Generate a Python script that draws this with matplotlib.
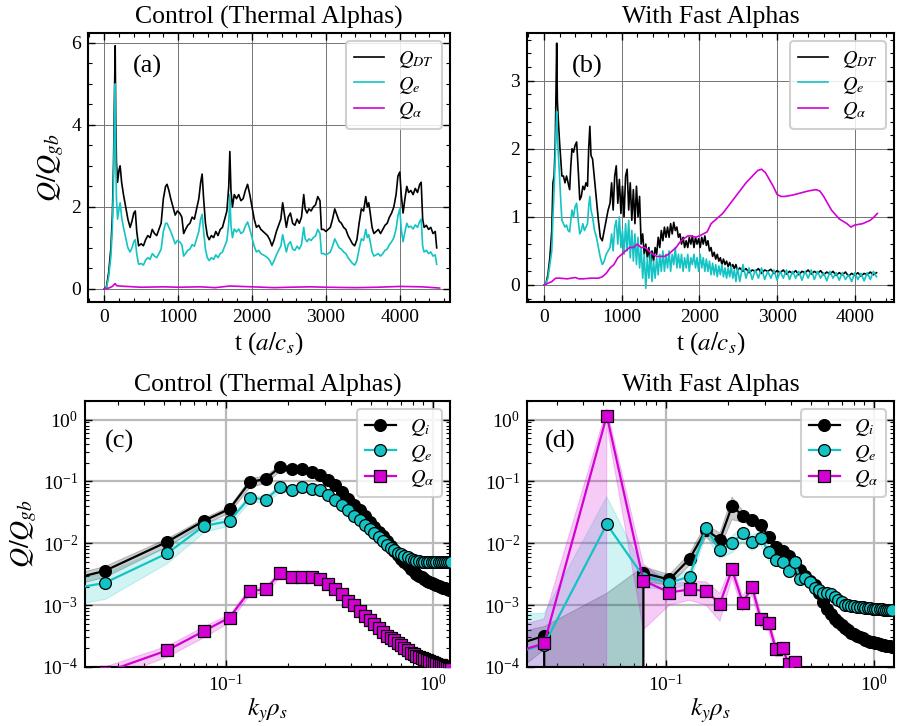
import numpy as np
import matplotlib
matplotlib.use("Agg")
import matplotlib.pyplot as plt
from matplotlib.ticker import MultipleLocator, LogLocator, NullFormatter

plt.rcParams['font.family'] = ['Liberation Serif', 'DejaVu Serif']
plt.rcParams['mathtext.fontset'] = 'stix'

C_BLK = 'black'
C_CYA = '#14c3c3'
C_MAG = '#d400d4'

# ---------------- panel (a) : time traces, control ----------------
t_a = [0, 30, 60, 90, 110, 125, 140, 148, 155, 165,
       180, 200, 215, 235, 260, 290, 320, 350, 375, 400,
       420, 440, 465, 500, 530, 560, 590, 620, 650, 680,
       710, 740, 770, 800, 830, 850, 875, 900, 930, 960,
       990, 1020, 1050, 1075, 1100, 1130, 1160, 1190, 1220, 1250,
       1280, 1305, 1325, 1345, 1370, 1395, 1420, 1450, 1480, 1510,
       1540, 1570, 1600, 1630, 1660, 1685, 1700, 1715, 1735, 1760,
       1790, 1820, 1850, 1880, 1910, 1940, 1970, 2000, 2030, 2060,
       2090, 2120, 2150, 2180, 2210, 2240, 2270, 2300, 2330, 2360,
       2390, 2415, 2440, 2465, 2490, 2520, 2550, 2580, 2610, 2640,
       2670, 2700, 2720, 2745, 2770, 2800, 2830, 2860, 2890, 2920,
       2940, 2970, 3000, 3030, 3060, 3090, 3120, 3150, 3180, 3210,
       3240, 3270, 3300, 3330, 3360, 3390, 3420, 3450, 3480, 3510,
       3540, 3560, 3580, 3600, 3625, 3650, 3680, 3710, 3740, 3770,
       3800, 3830, 3860, 3890, 3920, 3950, 3975, 4000, 4020, 4045,
       4070, 4095, 4120, 4150, 4180, 4210, 4240, 4270, 4290, 4310,
       4330, 4360, 4390, 4420, 4450, 4480, 4500]
qdt_a = [0.0, 0.05, 0.4, 1.0, 1.8, 3.0, 5.0, 5.93, 4.2, 3.1,
         2.6, 2.9, 3.0, 2.6, 2.3, 2.0, 1.7, 1.5, 1.65, 1.85,
         1.9, 1.4, 1.05, 1.1, 1.05, 1.2, 1.3, 1.25, 1.45, 1.35,
         1.3, 1.45, 1.6, 2.2, 2.5, 2.55, 2.4, 2.2, 2.0, 1.8,
         1.9, 1.85, 1.75, 1.35, 1.45, 1.55, 1.6, 1.75, 1.7, 1.95,
         2.2, 2.6, 2.8, 2.2, 1.6, 1.3, 1.2, 1.3, 1.25, 1.4,
         1.3, 1.45, 1.5, 1.7, 1.9, 2.5, 3.35, 2.4, 2.0, 2.3,
         2.2, 2.3, 2.15, 2.2, 2.4, 2.55, 2.3, 2.0, 1.7, 1.5,
         1.55, 1.45, 1.4, 1.35, 1.3, 1.2, 1.05, 1.2, 1.4, 1.55,
         1.7, 2.1, 1.8, 1.5, 1.75, 1.85, 1.6, 1.55, 1.7, 1.6,
         1.75, 2.3, 1.95, 1.85, 1.95, 1.9, 2.0, 2.05, 2.25, 2.15,
         1.45, 1.45, 1.4, 1.45, 1.5, 1.7, 1.95, 1.8, 1.65, 1.6,
         1.5, 1.45, 1.3, 1.2, 1.1, 1.05, 1.2, 1.6, 1.95, 1.9,
         2.25, 2.0, 2.1, 1.85, 1.5, 1.35, 1.4, 1.45, 1.35, 1.45,
         1.55, 1.6, 1.75, 1.85, 2.0, 2.3, 2.75, 2.85, 2.3, 1.85,
         2.2, 2.5, 2.35, 2.4, 2.3, 2.45, 2.35, 2.55, 2.6, 1.7,
         1.5, 1.55, 1.45, 1.5, 1.35, 1.4, 1.0]
qe_a = [0.0, 0.03, 0.3, 0.8, 1.5, 2.6, 4.3, 5.0, 3.3, 2.2,
        1.7, 1.95, 2.1, 1.75, 1.5, 1.25, 1.0, 0.9, 1.0, 1.15,
        1.2, 0.85, 0.6, 0.62, 0.58, 0.7, 0.76, 0.72, 0.86, 0.8,
        0.76, 0.86, 0.97, 1.4, 1.6, 1.6, 1.5, 1.4, 1.25, 1.1,
        1.18, 1.15, 1.08, 0.8, 0.86, 0.94, 0.97, 1.08, 1.04, 1.22,
        1.4, 1.7, 1.82, 1.4, 0.97, 0.76, 0.69, 0.76, 0.72, 0.83,
        0.76, 0.86, 0.9, 1.04, 1.18, 1.6, 2.3, 1.55, 1.25, 1.46,
        1.39, 1.46, 1.35, 1.39, 1.53, 1.63, 1.46, 1.25, 1.04, 0.9,
        0.94, 0.86, 0.83, 0.8, 0.76, 0.69, 0.58, 0.69, 0.83, 0.94,
        1.04, 1.32, 1.11, 0.9, 1.08, 1.15, 0.97, 0.94, 1.04, 0.97,
        1.08, 1.5, 1.22, 1.15, 1.22, 1.18, 1.25, 1.29, 1.45, 1.35,
        0.86, 0.86, 0.83, 0.86, 0.9, 1.04, 1.22, 1.11, 1.0, 0.97,
        0.9, 0.86, 0.76, 0.69, 0.62, 0.58, 0.69, 0.97, 1.22, 1.18,
        1.45, 1.25, 1.32, 1.15, 0.9, 0.8, 0.83, 0.86, 0.8, 0.86,
        0.94, 0.97, 1.08, 1.15, 1.25, 1.46, 1.78, 1.95, 1.46, 1.15,
        1.39, 1.6, 1.5, 1.53, 1.46, 1.56, 1.5, 1.64, 1.7, 1.04,
        0.9, 0.94, 0.86, 0.9, 0.8, 0.83, 0.6]
t_alpha_a = [0, 60, 110, 148, 165, 200, 300, 500, 800, 1000, 1300, 1500,
             1700, 2000, 2300, 2500, 2800, 3000, 3400, 3700, 4000, 4300, 4540]
qalpha_a = [0.0, 0.02, 0.06, 0.13, 0.08, 0.07, 0.06, 0.04, 0.05, 0.04, 0.05, 0.03,
            0.07, 0.05, 0.03, 0.04, 0.05, 0.04, 0.03, 0.04, 0.06, 0.05, 0.02]

# ---------------- panel (b) : time traces, fast alphas ----------------
t_b = [0, 25, 50, 75, 100, 115, 130, 145, 155, 163,
       172, 185, 200, 215, 230, 250, 270, 290, 310, 330,
       345, 360, 380, 400, 420, 440, 460, 480, 500, 520,
       540, 560, 575, 590, 605, 625, 650, 675, 700, 725,
       750, 775, 800, 825,
       850, 870, 890, 910, 930, 950, 970, 990, 1010, 1030,
       1050, 1070, 1090, 1110, 1130, 1150, 1170, 1190, 1210, 1230,
       1250, 1270, 1290, 1310, 1330, 1350, 1370, 1390, 1410, 1430,
       1450, 1470, 1490, 1510, 1530, 1550, 1570, 1590, 1610, 1630,
       1650, 1670, 1690, 1710, 1730, 1750, 1770, 1790, 1810, 1830,
       1850, 1870, 1890, 1910, 1930, 1950, 1970, 1990, 2010, 2030,
       2050, 2070, 2090, 2110, 2130, 2150, 2170, 2190, 2210, 2230,
       2250, 2270, 2290, 2310, 2330, 2350, 2370, 2390, 2410, 2430,
       2450, 2470, 2490,
       2520, 2560, 2600, 2640, 2680, 2720, 2760, 2800, 2840, 2880,
       2920, 2960, 3000, 3040, 3080, 3120, 3160, 3200, 3240, 3280,
       3320, 3360, 3400, 3440, 3480, 3520, 3560, 3600, 3640, 3680,
       3720, 3760, 3800, 3840, 3880, 3920, 3960, 4000, 4040, 4080,
       4120, 4160, 4200, 4240, 4280]
qdt_b = [0.0, 0.02, 0.15, 0.4, 0.8, 1.5, 1.6, 2.1, 2.9, 3.55,
         2.7, 2.4, 2.1, 1.85, 1.6, 1.6, 1.5, 1.6, 1.5, 1.4,
         1.75, 2.0, 1.95, 2.05, 2.1, 1.7, 1.25, 1.3, 1.45, 1.4,
         1.5, 1.45, 2.0, 2.33, 1.9, 1.85, 1.55, 1.25, 0.95, 0.7,
         0.65, 0.8, 0.95, 1.1,
         1.2, 1.5, 1.1, 1.6, 1.75, 1.2, 1.55, 1.05, 1.45, 1.0,
         1.6, 1.7, 1.1, 1.5, 0.95, 1.4, 0.9, 1.45, 1.0, 1.3,
         0.6, 0.75, 0.45, 0.6, 0.4, 0.55, 0.3, 0.5, 0.35, 0.55,
         0.45, 0.7, 0.55, 0.8, 0.65, 0.85, 0.7, 0.85, 0.7, 0.9,
         0.75, 0.92, 0.8, 0.85, 0.7, 0.75, 0.6, 0.7, 0.55, 0.65,
         0.55, 0.7, 0.6, 0.72, 0.55, 0.7, 0.6, 0.68, 0.55, 0.7,
         0.6, 0.72, 0.58, 0.65, 0.5, 0.55, 0.42, 0.48, 0.38, 0.45,
         0.35, 0.4, 0.3, 0.38, 0.3, 0.35, 0.27, 0.33, 0.26, 0.3,
         0.24, 0.3, 0.22,
         0.25, 0.2, 0.24, 0.18, 0.22, 0.2, 0.24, 0.17, 0.22, 0.2,
         0.23, 0.17, 0.21, 0.18, 0.22, 0.16, 0.2, 0.17, 0.21, 0.15,
         0.2, 0.18, 0.22, 0.16, 0.2, 0.17, 0.21, 0.15, 0.19, 0.16,
         0.2, 0.14, 0.18, 0.15, 0.19, 0.13, 0.17, 0.14, 0.18, 0.13,
         0.17, 0.15, 0.19, 0.15, 0.18]
qe_b = [0.0, 0.02, 0.1, 0.3, 0.5, 1.0, 1.4, 1.9, 2.3, 2.55,
        2.2, 1.9, 1.6, 1.25, 0.95, 0.9, 0.85, 0.88, 0.8, 0.78,
        0.95, 1.1, 1.0, 1.15, 1.2, 0.95, 0.75, 0.8, 0.9, 0.8,
        0.85, 0.9, 1.15, 1.3, 1.1, 1.0, 0.8, 0.7, 0.55, 0.4,
        0.3, 0.35, 0.45, 0.5,
        0.55, 0.75, 0.5, 0.85, 0.95, 0.6, 1.0, 0.55, 0.8, 0.45,
        0.9, 0.5, 0.95, 0.4, 0.8, 0.35, 0.75, 0.3, 0.7, 0.25,
        0.55, 0.1, 0.45, -0.05, 0.4, 0.1, 0.45, 0.05, 0.35, 0.1,
        0.4, 0.15, 0.45, 0.2, 0.5, 0.2, 0.45, 0.25, 0.5, 0.2,
        0.45, 0.3, 0.55, 0.25, 0.45, 0.25, 0.45, 0.2, 0.4, 0.25,
        0.45, 0.2, 0.4, 0.3, 0.45, 0.25, 0.4, 0.2, 0.45, 0.25,
        0.4, 0.2, 0.38, 0.2, 0.35, 0.15, 0.32, 0.15, 0.3, 0.12,
        0.28, 0.15, 0.3, 0.12, 0.25, 0.1, 0.25, 0.12, 0.28, 0.1,
        0.22, 0.05, 0.25,
        0.05, 0.3, 0.1, 0.25, 0.08, 0.22, 0.1, 0.25, 0.08, 0.2,
        0.1, 0.22, 0.07, 0.2, 0.1, 0.22, 0.08, 0.2, 0.1, 0.2,
        0.07, 0.2, 0.1, 0.22, 0.08, 0.2, 0.1, 0.18, 0.06, 0.2,
        0.1, 0.18, 0.07, 0.18, 0.08, 0.15, 0.05, 0.18, 0.08, 0.17,
        0.06, 0.18, 0.08, 0.2, 0.12]
t_alpha_b = [0, 100, 150, 200, 300, 400, 450, 500, 600, 700,
             750, 800, 850, 900, 950, 1000, 1050, 1100, 1150, 1200,
             1250, 1300, 1350, 1400, 1450, 1500, 1550, 1600, 1650, 1700,
             1750, 1800, 1850, 1900, 1950, 2000, 2050, 2100, 2150, 2200,
             2300, 2400, 2500, 2600, 2700, 2750, 2800, 2850, 2900, 2950,
             3000, 3050, 3100, 3200, 3300, 3400, 3500, 3550, 3600, 3650,
             3700, 3800, 3900, 3950, 4000, 4100, 4200, 4250, 4290]
qalpha_b = [0.0, 0.05, 0.1, 0.1, 0.09, 0.11, 0.09, 0.09, 0.1, 0.1,
            0.12, 0.17, 0.25, 0.3, 0.4, 0.45, 0.5, 0.55, 0.55, 0.6,
            0.55, 0.55, 0.5, 0.45, 0.42, 0.42, 0.42, 0.45, 0.5, 0.55,
            0.63, 0.68, 0.72, 0.72, 0.7, 0.72, 0.75, 0.78, 0.9, 0.95,
            1.05, 1.2, 1.35, 1.5, 1.62, 1.68, 1.7, 1.65, 1.55, 1.45,
            1.33, 1.3, 1.3, 1.32, 1.35, 1.38, 1.4, 1.38, 1.3, 1.2,
            1.1, 0.97, 0.9, 0.85, 0.88, 0.9, 0.95, 1.0, 1.05]

# ---------------- spectra (c), (d) ----------------
ky = [0.013, 0.026, 0.052, 0.078, 0.104, 0.13, 0.156, 0.182, 0.208, 0.234,
      0.26, 0.286, 0.312, 0.338, 0.364, 0.39, 0.416, 0.442, 0.468, 0.494,
      0.52, 0.546, 0.572, 0.598, 0.624, 0.65, 0.676, 0.702, 0.728, 0.754,
      0.78, 0.806, 0.832, 0.858, 0.884, 0.91, 0.936, 0.962, 0.988, 1.014,
      1.04, 1.066, 1.092, 1.118, 1.144, 1.17, 1.196, 1.222]

qi_c = [2.0e-3, 3.6e-3, 1.06e-2, 2.3e-2, 3.6e-2, 9.7e-2, 0.111, 0.17, 0.16, 0.16,
        0.14, 0.125, 0.104, 0.087, 0.068, 0.053, 0.042, 0.034, 0.0275, 0.0224,
        0.0186, 0.0155, 0.0129, 0.0107, 8.9e-3, 7.6e-3, 6.5e-3, 5.6e-3, 4.9e-3, 4.4e-3,
        3.9e-3, 3.55e-3, 3.2e-3, 3.0e-3, 2.8e-3, 2.6e-3, 2.5e-3, 2.4e-3, 2.3e-3, 2.2e-3,
        2.1e-3, 2.04e-3, 1.95e-3, 1.9e-3, 1.86e-3, 1.82e-3, 1.78e-3, 1.75e-3]
qe_c = [1.5e-3, 2.3e-3, 6.9e-3, 1.9e-2, 2.3e-2, 5.5e-2, 5.1e-2, 8.1e-2, 7.4e-2, 8.1e-2,
        7.5e-2, 7.2e-2, 6.0e-2, 5.0e-2, 4.1e-2, 3.4e-2, 2.75e-2, 2.35e-2, 2.0e-2, 1.7e-2,
        1.45e-2, 1.26e-2, 1.1e-2, 9.5e-3, 8.5e-3, 7.8e-3, 7.1e-3, 6.6e-3, 6.2e-3, 5.9e-3,
        5.6e-3, 5.4e-3, 5.25e-3, 5.1e-3, 5.0e-3, 4.95e-3, 4.9e-3, 4.9e-3, 4.9e-3, 4.95e-3,
        4.9e-3, 4.95e-3, 5.0e-3, 4.95e-3, 5.0e-3, 5.0e-3, 5.05e-3, 5.05e-3]
qa_c = [3e-5, 8.2e-5, 1.86e-4, 3.8e-4, 6.3e-4, 1.7e-3, 1.8e-3, 3.3e-3, 2.9e-3, 2.9e-3,
        2.9e-3, 2.6e-3, 2.2e-3, 1.8e-3, 1.5e-3, 1.15e-3, 1.0e-3, 7.9e-4, 6.8e-4, 5.75e-4,
        4.9e-4, 4.3e-4, 3.7e-4, 3.2e-4, 2.95e-4, 2.7e-4, 2.45e-4, 2.25e-4, 2.05e-4, 1.86e-4,
        1.7e-4, 1.6e-4, 1.5e-4, 1.45e-4, 1.4e-4, 1.35e-4, 1.3e-4, 1.25e-4, 1.2e-4, 1.16e-4,
        1.12e-4, 1.09e-4, 1.06e-4, 1.03e-4, 1.0e-4, 9.7e-5, 9.4e-5, 9.2e-5]
# relative standard deviations for (c)
rsd_i_c = [0.2, 0.2, 0.15, 0.12, 0.12, 0.15, 0.15, 0.12, 0.1, 0.1,
           0.1, 0.1, 0.1, 0.1, 0.1, 0.1, 0.1, 0.1, 0.1, 0.1,
           0.1, 0.1, 0.1, 0.1, 0.1, 0.1, 0.1, 0.1, 0.1, 0.1,
           0.1, 0.1, 0.1, 0.1, 0.1, 0.1, 0.1, 0.1, 0.1, 0.1,
           0.1, 0.1, 0.1, 0.1, 0.1, 0.1, 0.1, 0.1]
rsd_e_c = [0.45, 0.45, 0.3, 0.2, 0.15, 0.12, 0.12, 0.15, 0.1, 0.1,
           0.1, 0.1, 0.1, 0.1, 0.1, 0.1, 0.1, 0.1, 0.1, 0.1,
           0.1, 0.1, 0.1, 0.1, 0.1, 0.1, 0.1, 0.1, 0.1, 0.1,
           0.1, 0.1, 0.1, 0.1, 0.1, 0.1, 0.1, 0.1, 0.1, 0.1,
           0.1, 0.1, 0.1, 0.1, 0.1, 0.1, 0.1, 0.1]
rsd_a_c = [0.25, 0.25, 0.2, 0.2, 0.15, 0.12, 0.12, 0.12, 0.12, 0.12,
           0.12, 0.12, 0.12, 0.12, 0.12, 0.12, 0.12, 0.12, 0.12, 0.12,
           0.12, 0.12, 0.12, 0.12, 0.12, 0.12, 0.12, 0.12, 0.12, 0.12,
           0.12, 0.12, 0.12, 0.12, 0.12, 0.12, 0.12, 0.12, 0.12, 0.12,
           0.12, 0.12, 0.12, 0.12, 0.12, 0.12, 0.12, 0.12]

qi_d = [1.5e-4, 3.2e-4, -3e-4, 3.3e-3, 2.6e-3, 5.6e-3, 1.65e-2, 1.15e-2, 4.0e-2, 2.8e-2,
        2.4e-2, 1.96e-2, 1.28e-2, 8.8e-3, 7.5e-3, 6.3e-3, 5.0e-3, 3.7e-3, 3.0e-3, 2.5e-3,
        2.1e-3, 1.6e-3, 1.12e-3, 8.7e-4, 7.1e-4, 6.0e-4, 5.25e-4, 4.7e-4, 4.3e-4, 3.9e-4,
        3.6e-4, 3.4e-4, 3.2e-4, 3.0e-4, 2.9e-4, 2.75e-4, 2.6e-4, 2.55e-4, 2.5e-4, 2.45e-4,
        2.4e-4, 2.35e-4, 2.3e-4, 2.25e-4, 2.2e-4, 2.2e-4, 2.15e-4, 2.1e-4]
sd_i_d = [1.2e-4, 1.3e-4, 1.85e-3, 9e-4, 5e-4, 1.2e-3, 4e-3, 3e-3, 1.6e-2, 6e-3,
          4e-3, 3e-3, 2e-3, 1.3e-3, 1.1e-3, 9e-4, 7e-4, 5e-4, 4e-4, 3.5e-4,
          3e-4, 2.4e-4, 1.7e-4, 1.3e-4, 1.1e-4, 9e-5, 8e-5, 7e-5, 6.5e-5, 6e-5,
          5.5e-5, 5e-5, 5e-5, 4.5e-5, 4.5e-5, 4e-5, 4e-5, 4e-5, 4e-5, 4e-5,
          3.5e-5, 3.5e-5, 3.5e-5, 3.5e-5, 3.5e-5, 3.5e-5, 3.5e-5, 3.5e-5]
qe_d = [1.2e-4, 2.3e-4, 2.04e-2, 2.9e-3, 2.3e-3, 2.9e-3, 1.74e-2, 7.7e-3, 1.0e-2, 1.45e-2,
        1.06e-2, 1.24e-2, 7.3e-3, 5.4e-3, 5.0e-3, 3.6e-3, 5.0e-3, 2.6e-3, 2.7e-3, 2.4e-3,
        1.9e-3, 1.77e-3, 1.55e-3, 1.6e-3, 1.5e-3, 1.38e-3, 1.23e-3, 1.12e-3, 1.02e-3, 1.0e-3,
        9.8e-4, 9.6e-4, 9.5e-4, 9.3e-4, 9.2e-4, 9.1e-4, 9.0e-4, 8.9e-4, 8.8e-4, 8.8e-4,
        8.7e-4, 8.6e-4, 8.6e-4, 8.5e-4, 8.5e-4, 8.4e-4, 8.4e-4, 8.3e-4]
sd_e_d = [5.5e-4, 5.1e-4, 3.6e-2, 1.0e-3, 5e-4, 7e-4, 4e-3, 2e-3, 3e-3, 4e-3,
          3e-3, 3e-3, 2e-3, 1.2e-3, 1e-3, 7e-4, 8e-4, 4e-4, 4e-4, 3e-4,
          2.5e-4, 1.8e-4, 1.5e-4, 1.5e-4, 1.4e-4, 1.3e-4, 1.2e-4, 1.1e-4, 1e-4, 1e-4,
          1e-4, 9e-5, 9e-5, 9e-5, 9e-5, 9e-5, 9e-5, 9e-5, 9e-5, 9e-5,
          9e-5, 9e-5, 9e-5, 9e-5, 9e-5, 9e-5, 9e-5, 9e-5]
qa_d = [1.2e-4, 2.4e-4, 1.16, 2.5e-3, 1.6e-3, 1.8e-3, 1.7e-3, 1.05e-3, 3.8e-3, 1.1e-3,
        1.95e-3, 5.9e-4, 5.1e-4, 1.95e-4, 2.0e-4, 1.1e-4, 1.2e-4, 8e-5, 5e-5, 3.5e-5,
        2.5e-5, 2e-5, 1.6e-5, 1.3e-5, 1.1e-5, 9e-6, 8e-6, 7e-6, 6e-6, 5.5e-6,
        5e-6, 4.6e-6, 4.3e-6, 4e-6, 3.8e-6, 3.6e-6, 3.4e-6, 3.2e-6, 3e-6, 2.9e-6,
        2.8e-6, 2.7e-6, 2.6e-6, 2.5e-6, 2.4e-6, 2.3e-6, 2.2e-6, 2.1e-6]
sd_a_d = [2e-4, 3.6e-4, 0.34, 2.1e-3, 6e-4, 6e-4, 7e-4, 5e-4, 1e-3, 3e-4,
          5e-4, 1.5e-4, 1.3e-4, 5e-5, 5e-5, 3e-5, 3e-5, 2e-5, 1.2e-5, 8e-6,
          5e-6, 4e-6, 3e-6, 3e-6, 2e-6, 2e-6, 2e-6, 1.5e-6, 1.5e-6, 1e-6,
          1e-6, 1e-6, 1e-6, 1e-6, 1e-6, 1e-6, 1e-6, 1e-6, 1e-6, 1e-6,
          1e-6, 1e-6, 1e-6, 1e-6, 1e-6, 1e-6, 1e-6, 1e-6]

titles = ['Control (Thermal Alphas)', 'With Fast Alphas',
          'Control (Thermal Alphas)', 'With Fast Alphas']
letters = ['(a)', '(b)', '(c)', '(d)']

W, H = 899, 726
fig = plt.figure(figsize=(W / 100, H / 100), dpi=100)


def box(l, r, t, b):
    return [l / W, 1 - b / H, (r - l) / W, (b - t) / H]


axa = fig.add_axes(box(88, 450, 33, 302))
axb = fig.add_axes(box(527, 894, 33, 302))
axc = fig.add_axes(box(85, 450, 401, 667))
axd = fig.add_axes(box(527, 894, 401, 667))


def style(ax, lw_grid, grid_color):
    for s in ax.spines.values():
        s.set_linewidth(1.5)
    ax.tick_params(which='both', direction='in', top=True, right=True,
                   labelsize=14)
    ax.tick_params(which='major', length=5, width=1.0)
    ax.tick_params(which='minor', length=2.6, width=0.8)
    ax.tick_params(axis='y', pad=5)
    ax.tick_params(axis='x', pad=5)
    ax.grid(True, which='major', color=grid_color, lw=lw_grid, zorder=0)
    ax.set_axisbelow(True)


def make_legend(ax):
    leg = ax.legend(loc='upper right', fontsize=14.5, handlelength=1.5,
                    fancybox=True, framealpha=0.85, borderpad=0.4,
                    labelspacing=0.22, handletextpad=0.7, borderaxespad=0.4)
    leg.get_frame().set_edgecolor('#c8c8c8')
    leg.get_frame().set_linewidth(1.5)


# ---- (a)
axa.plot(t_a, qdt_a, color=C_BLK, lw=1.2, label=r'$Q_{DT}$')
axa.plot(t_a, qe_a, color=C_CYA, lw=1.2, label=r'$Q_e$')
axa.plot(t_alpha_a, qalpha_a, color=C_MAG, lw=1.2, label=r'$Q_\alpha$')
axa.set_xlim(-220, 4680)
axa.set_ylim(-0.32, 6.24)
axa.xaxis.set_major_locator(MultipleLocator(1000))
axa.xaxis.set_minor_locator(MultipleLocator(200))
axa.yaxis.set_major_locator(MultipleLocator(2))
axa.yaxis.set_minor_locator(MultipleLocator(0.5))
style(axa, 0.7, '0.45')

# ---- (b)
axb.plot(t_b, qdt_b, color=C_BLK, lw=1.2, label=r'$Q_{DT}$')
axb.plot(t_b, qe_b, color=C_CYA, lw=1.2, label=r'$Q_e$')
axb.plot(t_alpha_b, qalpha_b, color=C_MAG, lw=1.2, label=r'$Q_\alpha$')
axb.set_xlim(-219, 4505)
axb.set_ylim(-0.25, 3.7)
axb.xaxis.set_major_locator(MultipleLocator(1000))
axb.xaxis.set_minor_locator(MultipleLocator(200))
axb.yaxis.set_major_locator(MultipleLocator(1))
axb.yaxis.set_minor_locator(MultipleLocator(0.2))
style(axb, 0.7, '0.45')

for ax in (axa, axb):
    ax.set_xlabel(r't ($a/c_s$)', fontsize=18, labelpad=3)
    make_legend(ax)
axa.set_ylabel(r'$Q/Q_{gb}$', fontsize=20, labelpad=4)


# ---- spectra
def spectrum(ax, lo_hi, series, xlim):
    for (lo, hi), (vals, col, mk, lab) in zip(lo_hi, series):
        ax.fill_between(ky, lo, hi, color=col, alpha=0.2, lw=0.8, zorder=2)
    for vals, col, mk, lab in series:
        ax.plot(ky, vals, color=col, lw=1.6, marker=mk, ms=8.5,
                mfc=col, mec='black', mew=0.9, label=lab, zorder=3)
    ax.set_xscale('log')
    ax.set_yscale('log')
    ax.set_xlim(*xlim)
    ax.set_ylim(1e-4, 2.0)
    ax.yaxis.set_major_locator(LogLocator(base=10, numticks=10))
    ax.yaxis.set_minor_locator(LogLocator(base=10, subs=np.arange(2, 10) * 1.0, numticks=12))
    ax.yaxis.set_minor_formatter(NullFormatter())
    ax.xaxis.set_minor_formatter(NullFormatter())
    style(ax, 1.6, '#b9b9b9')
    ax.set_xlabel(r'$k_y\rho_s$', fontsize=18, labelpad=0)
    make_legend(ax)


bands_c = []
for vals, rsd in ((qi_c, rsd_i_c), (qe_c, rsd_e_c), (qa_c, rsd_a_c)):
    v = np.array(vals)
    r = np.array(rsd)
    bands_c.append((v * (1 - r), v * (1 + r)))
spectrum(axc, bands_c,
         [(qi_c, C_BLK, 'o', r'$Q_i$'), (qe_c, C_CYA, 'o', r'$Q_e$'),
          (qa_c, C_MAG, 's', r'$Q_\alpha$')], (0.0208, 1.21))

bands_d = []
for vals, sd in ((qi_d, sd_i_d), (qe_d, sd_e_d), (qa_d, sd_a_d)):
    v = np.array(vals)
    s = np.array(sd)
    bands_d.append((v - s, v + s))
spectrum(axd, bands_d,
         [(qi_d, C_BLK, 'o', r'$Q_i$'), (qe_d, C_CYA, 'o', r'$Q_e$'),
          (qa_d, C_MAG, 's', r'$Q_\alpha$')], (0.0215, 1.25))
axc.set_ylabel(r'$Q/Q_{gb}$', fontsize=20, labelpad=2)

for ax, ttl in zip((axa, axb, axc, axd), titles):
    ax.set_title(ttl, fontsize=18.5, pad=7)

letter_pos = [(0.124, 0.874), (0.122, 0.874), (0.055, 0.847), (0.049, 0.847)]
for ax, let, (x, y) in zip((axa, axb, axc, axd), letters, letter_pos):
    ax.text(x, y, let, transform=ax.transAxes, fontsize=19,
            ha='left', va='center', zorder=6)

fig.savefig('out.png', dpi=100)
